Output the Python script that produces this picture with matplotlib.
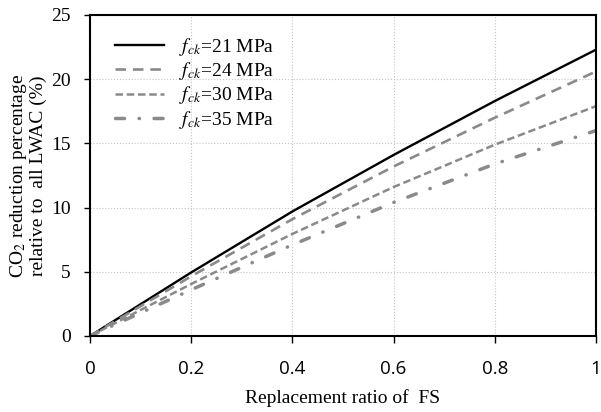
import numpy as np
import matplotlib
matplotlib.use("Agg")
import matplotlib.pyplot as plt

plt.rcParams['font.family'] = ['Liberation Serif', 'DejaVu Serif']
plt.rcParams['mathtext.fontset'] = 'stix'

# data
ratio = [0.0, 0.2, 0.4, 0.6, 0.8, 1.0]
fck21 = [0.0, 4.95, 9.7, 14.1, 18.3, 22.3]
fck24 = [0.0, 4.65, 9.1, 13.2, 17.0, 20.6]
fck30 = [0.0, 4.05, 7.95, 11.6, 14.9, 17.9]
fck35 = [0.0, 3.6, 7.1, 10.4, 13.4, 16.0]
labels = [r'$f_{ck}$=21 MPa', r'$f_{ck}$=24 MPa', r'$f_{ck}$=30 MPa', r'$f_{ck}$=35 MPa']
xticks = [0, 0.2, 0.4, 0.6, 0.8, 1]
xticklabels = ['0', '0.2', '0.4', '0.6', '0.8', '1']
yticks = [0, 5, 10, 15, 20, 25]

gray = '#8a8a8a'

fig = plt.figure(figsize=(6.01, 4.12), dpi=100)
ax = fig.add_axes([0.1498, 0.1845, 0.8419, 0.7791])

ax.plot(ratio, fck21, color='black', lw=1.7, label=labels[0])
ax.plot(ratio, fck24, color=gray, lw=1.9, dashes=(4.0, 2.6), label=labels[1])
ax.plot(ratio, fck30, color=gray, lw=1.8, dashes=(3.0, 1.5), label=labels[2])
ax.plot(ratio, fck35, color=gray, lw=2.5, dashes=(2.6, 4.2, 0.1, 4.2),
        dash_capstyle='round', label=labels[3])

ax.set_xlim(0, 1)
ax.set_ylim(0, 25)
ax.set_xticks(xticks)
ax.set_xticklabels(xticklabels, fontfamily='Open Sans', fontsize=13.5)
ax.set_yticks(yticks)
ax.tick_params(axis='y', direction='out', length=4, width=1, pad=10, labelsize=14)
ax.tick_params(axis='x', direction='out', length=5, width=1, pad=12)

ax.grid(True, color='#c4c4c4', linestyle=':', linewidth=0.8)
for s in ax.spines.values():
    s.set_linewidth(1.5)
    s.set_color('black')

ax.set_xlabel('Replacement ratio of  FS', fontsize=14, labelpad=8)
ax.set_ylabel('CO$_2$ reduction percentage\nrelative to  all LWAC (%)', fontsize=14,
              labelpad=3, linespacing=1.05)

ax.legend(loc='upper left', frameon=False, fontsize=14, handlelength=2.5,
          handletextpad=0.8, labelspacing=0.12, borderaxespad=0.5,
          bbox_to_anchor=(0.015, 0.99))

fig.savefig('out.png', dpi=100)
